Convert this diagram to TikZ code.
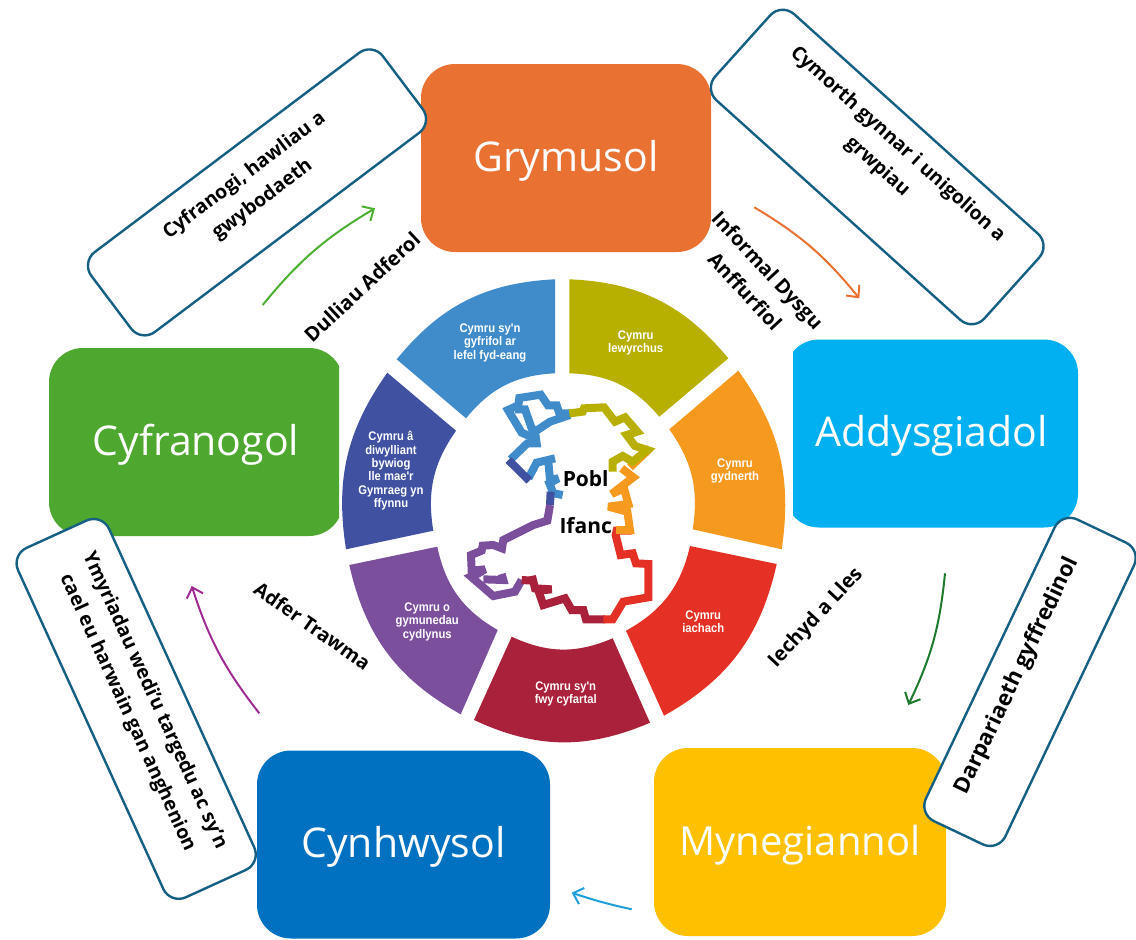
\documentclass[tikz,border=0pt]{standalone}
\usepackage{fontspec}
\setmainfont{Open Sans}
\newfontfamily\wheelfont[FakeStretch=0.9]{Liberation Sans}
\usetikzlibrary{arrows.meta}
\definecolor{cOrange}{HTML}{E97132}
\definecolor{cSky}{HTML}{00B0F0}
\definecolor{cGreen}{HTML}{4EA72E}
\definecolor{cYellow}{HTML}{FFC000}
\definecolor{cBlue}{HTML}{0070C0}
\definecolor{cLine}{HTML}{156082}
\definecolor{wBlue}{HTML}{408CCB}
\definecolor{wOlive}{HTML}{B8B000}
\definecolor{wOrange}{HTML}{F5991F}
\definecolor{wRed}{HTML}{E53125}
\definecolor{wCrimson}{HTML}{A9213A}
\definecolor{wPurple}{HTML}{7B4F9B}
\definecolor{wNavy}{HTML}{3F51A0}
\definecolor{aDark}{HTML}{1E7B2E}
\definecolor{aSky}{HTML}{1E9FD8}
\definecolor{aPurple}{HTML}{A02B93}
\definecolor{aGreen}{HTML}{4EB033}
\newcommand{\liftby}[1]{\\[\dimexpr#1-30pt\relax]\mbox{}}
\tikzset{
  mainbox/.style={rectangle,rounded corners=34pt,minimum width=#1,minimum height=188pt,inner sep=0pt,text=white,text height=34pt,text depth=8pt,font=\fontsize{41}{46}\selectfont},
  notebox/.style={rectangle,rounded corners=17pt,draw=cLine,line width=2.4pt,fill=white,align=center,inner sep=0pt,font=\fontsize{19.4}{30}\selectfont\bfseries},
  sidelabel/.style={align=center,inner sep=0pt,font=\fontsize{20}{31}\selectfont\bfseries},
  wheeltext/.style={align=center,inner sep=0pt,text=white,font=\wheelfont\bfseries\fontsize{12.5}{13.3}\selectfont},
  walesline/.style={line width=8pt,line join=miter,miter limit=3},
  centretext/.style={inner sep=0pt,font=\fontsize{21}{23}\selectfont\bfseries},
  flow/.style={line width=2pt,-{Straight Barb[length=9pt,width=17pt,line width=2pt]}},
}
\begin{document}
\begin{tikzpicture}[x=1pt,y=-1pt]
\useasboundingbox (0,0) rectangle (1136,940);
% wheel
\fill[wBlue] (555,373.3) -- (555,279.3) to[bend right=24] (396.7,359.3) -- (466,418.3) to[bend left=24] cycle;
\fill[wOlive] (569.3,373.3) -- (569.3,279.3) to[bend left=24] (728.3,358.3) -- (659.3,416.7) to[bend right=24] cycle;
\fill[wOrange] (738.3,370.7) to[bend left=22] (781.7,549.3) -- (692.7,529.3) to[bend right=22] (669.3,429.3) -- cycle;
\fill[wRed] (776.7,564) to[bend left=24] (664,715.7) -- (626,630.7) to[bend right=24] (690,546) -- cycle;
\fill[wCrimson] (650,722.7) to[bend left=24] (474,720) -- (511.7,636.7) to[bend right=24] (612.7,638.3) -- cycle;
\fill[wPurple] (460.7,714.3) to[bend left=24] (349.3,565) -- (437.3,546.7) to[bend right=24] (497.7,630) -- cycle;
\fill[wNavy] (346,549.3) to[bend left=22] (387.3,372.7) -- (456,430.7) to[bend right=22] (433.3,530.7) -- cycle;
\node[wheeltext] (w1) at (490,342.7) {Cymru sy'n\\gyfrifol ar\\lefel fyd-eang};
\node[wheeltext] (w2) at (635.7,342.7) {Cymru\\lewyrchus};
\node[wheeltext] (w3) at (735,470.7) {Cymru\\gydnerth};
\node[wheeltext] (w4) at (703.3,621.7) {Cymru\\iachach};
\node[wheeltext] (w5) at (565.7,694) {Cymru sy'n\\fwy cyfartal};
\node[wheeltext] (w6) at (427.3,621.7) {Cymru o\\gymunedau\\cydlynus};
\node[wheeltext] (w7) at (391,470.7) {Cymru â\\diwylliant\\bywiog\\lle mae'r\\Gymraeg yn\\ffynnu};
% Wales outline (traced, coordinates of a 3x enlargement)
\begin{scope}[shift={(440,380)},scale=0.33333]
\draw[walesline,wBlue] (390,100) -- (358,100) -- (350,76) -- (324,76) -- (302,44) -- (238,54) -- (235,76) -- (204,90) -- (245,158) -- (278,172);
\draw[walesline,wBlue] (225,88) -- (255,88) -- (275,145) -- (292,155);
\draw[walesline,wBlue] (390,105) -- (330,125) -- (285,155) -- (290,190) -- (262,190) -- (212,238);
\draw[walesline,wBlue] (265,295) -- (290,248) -- (345,235);
\draw[walesline,wBlue] (325,245) -- (330,300) -- (355,295) -- (328,310) -- (340,340) -- (368,345);
\draw[walesline,wNavy] (205,240) -- (268,302);
\draw[walesline,wNavy] (332,335) -- (330,375);
\draw[walesline,wPurple] (330,375) -- (322,422) -- (280,435) -- (190,480) -- (186,505) -- (160,495) -- (128,497) -- (125,512) -- (93,525) -- (95,572) -- (135,568) -- (112,582) -- (93,590) -- (160,648) -- (225,635) -- (245,600);
\draw[walesline,wPurple] (130,598) -- (190,600) -- (185,582);
\draw[walesline,wCrimson] (245,600) -- (278,602) -- (276,588) -- (285,625) -- (335,628) -- (295,632) -- (310,675) -- (375,655) -- (395,690) -- (430,690) -- (438,718) -- (495,718);
\draw[walesline,wRed] (490,718) -- (518,718) -- (550,665) -- (625,652) -- (625,552) -- (588,550) -- (578,520) -- (542,525) -- (527,465) -- (530,452) -- (575,452);
\draw[walesline,wOrange] (528,450) -- (570,450) -- (562,395) -- (505,380) -- (565,372) -- (552,325) -- (515,342) -- (580,292) -- (545,265);
\draw[walesline,wOrange] (570,262) -- (630,205);
\draw[walesline,wOlive] (388,100) -- (428,95) -- (432,85) -- (492,82) -- (525,125) -- (555,112) -- (592,155) -- (560,165) -- (585,198) -- (622,210) -- (578,245) -- (548,228) -- (518,245) -- (518,275);
\end{scope}
\node[centretext] (pobl) at (585.7,479) {Pobl};
\node[centretext] (ifanc) at (585.7,525.7) {Ifanc};
% main boxes (two are cropped on one side)
\node[mainbox=290pt,fill=cOrange] (gry) at (566,158) {Grymusol};
\begin{scope}
\clip (793,330) rectangle (1090,540);
\node[mainbox=293pt,fill=cSky] (add) at (931.5,433.5) {Addysgiadol};
\end{scope}
\begin{scope}
\clip (40,340) rectangle (339,545);
\node[mainbox=294pt,fill=cGreen] (cyf) at (196,442) {Cyfranogol};
\end{scope}
\node[mainbox=292pt,fill=cYellow,font=\fontsize{40}{46}\selectfont] (myn) at (800,842) {Mynegiannol};
\node[mainbox=293pt,fill=cBlue] (cyn) at (403.5,844.5) {Cynhwysol};
% note boxes
\node[notebox,rotate=37,minimum width=365pt,minimum height=100pt] (n1) at (257,192.4) {Cyfranogi, hawliau a\\gwybodaeth\liftby{16pt}};
\node[notebox,rotate=-42,minimum width=362pt,minimum height=116pt] (n2) at (877.2,167) {Cymorth gynnar i unigolion a\\grwpiau\liftby{35pt}};
\node[notebox,rotate=-65.5,minimum width=384pt,minimum height=100pt] (n3) at (136.2,708.9) {Ymyriadau wedi'u targedu ac sy'n\\cael eu harwain gan anghenion\liftby{15pt}};
\node[notebox,rotate=64.6,minimum width=334pt,minimum height=88pt,font=\fontsize{22}{30}\selectfont\bfseries] (n4) at (1030,681.9) {Darpariaeth gyffredinol\liftby{34pt}};
% side labels
\node[sidelabel,rotate=43] (l1) at (362,287) {Dulliau Adferol};
\node[sidelabel,rotate=-47] (l2) at (756.5,280.5) {Informal Dysgu\\Anffurfiol};
\node[sidelabel,rotate=47] (l3) at (816,618) {Iechyd a Lles};
\node[sidelabel,rotate=-35,font=\fontsize{19.4}{31}\selectfont\bfseries] (l4) at (312.5,626) {Adfer Trawma};
% arrows
\coordinate (a1s) at (262.7,305); \coordinate (a1e) at (375,208.3);
\coordinate (a2s) at (754.3,207.3); \coordinate (a2e) at (859.3,298.3);
\coordinate (a3s) at (945,573.3); \coordinate (a3e) at (908.3,705);
\coordinate (a4s) at (631.7,909.3); \coordinate (a4e) at (571.7,892.7);
\coordinate (a5s) at (259.3,713.3); \coordinate (a5e) at (191.7,586);
\draw[flow,aGreen] (a1s) to[bend left=10] (a1e);
\draw[flow,cOrange] (a2s) to[bend left=10] (a2e);
\draw[flow,aDark] (a3s) to[bend left=10] (a3e);
\draw[flow,aSky] (a4s) to[bend left=3] (a4e);
\draw[flow,aPurple] (a5s) to[bend left=10] (a5e);
\end{tikzpicture}
\end{document}
